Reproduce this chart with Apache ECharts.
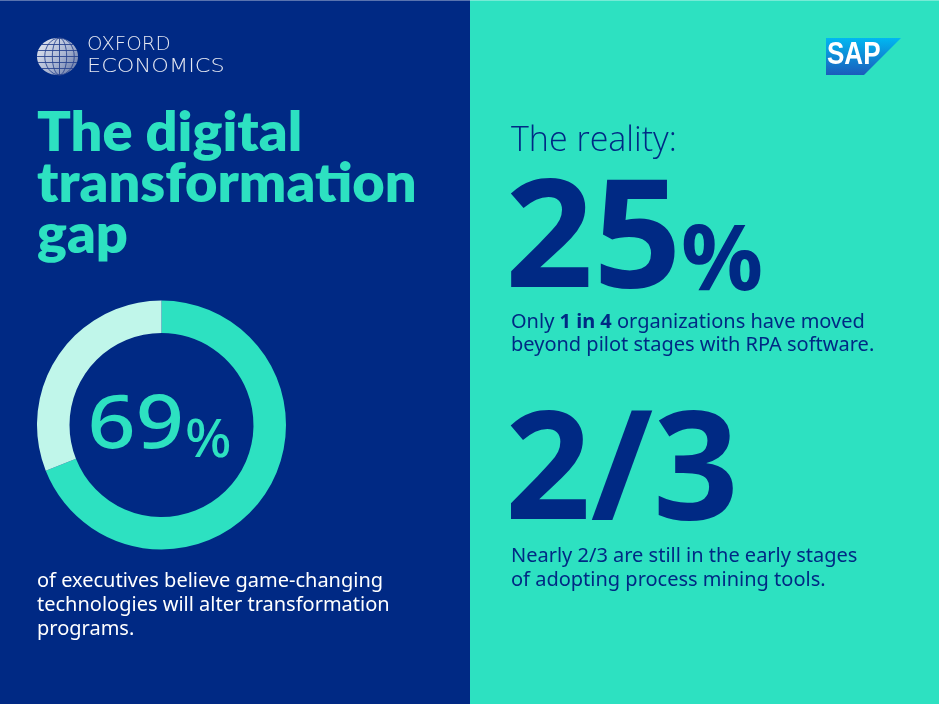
<!DOCTYPE html>
<html>
<head>
<meta charset="utf-8">
<script src="https://cdn.jsdelivr.net/npm/echarts@6/dist/echarts.min.js"></script>
<style>
html,body{margin:0;padding:0;background:#002984;}
#chart{width:939px;height:704px;}
</style>
</head>
<body>
<div id="chart"></div>
<script>
// ---- data ----
const donutCategories = ['Believe game-changing technologies will alter transformation programs', 'Other executives'];
const donutValues = [69, 31];
const donutHeadline = ['69', '%'];
const realityValue = ['25', '%'];
const fractionValue = '2/3';
const titleLines = ['The digital', 'transformation', 'gap'];
const leftBody = ['of executives believe game-changing', 'technologies will alter transformation', 'programs.'];
const realityBody1 = ['Only ', '1 in 4', ' organizations have moved'];
const realityBody2 = 'beyond pilot stages with RPA software.';
const fractionBody = ['Nearly 2/3 are still in the early stages', 'of adopting process mining tools.'];

// ---- colours ----
const NAVY = '#002984';
const TEAL = '#2DE1C1';
const MINT = '#C0F6EA';

const chart = echarts.init(document.getElementById('chart'), null, {renderer: 'canvas'});

// globe decoration (Oxford Economics logo)
const gcx = 57.5, gcy = 56.5, grx = 20.5, gry = 18.5;
const globe = [{
  type: 'ellipse', shape: {cx: gcx, cy: gcy, rx: grx, ry: gry},
  style: {fill: new echarts.graphic.LinearGradient(0, 0, 1, 1, [
    {offset: 0, color: '#e8ecf4'}, {offset: 0.55, color: '#aab6d2'}, {offset: 1, color: '#5d6f9f'}])}
}];
[0.35, 0.72].forEach(k => globe.push({
  type: 'ellipse', shape: {cx: gcx + 2, cy: gcy, rx: grx * k, ry: gry},
  style: {fill: null, stroke: '#2a4590', lineWidth: 0.9}
}));
globe.push({type: 'line', shape: {x1: gcx + 2, y1: gcy - gry, x2: gcx + 2, y2: gcy + gry}, style: {stroke: '#2a4590', lineWidth: 0.9}});
[-12, -6, 0, 6, 12].forEach(dy => {
  const hw = grx * Math.sqrt(1 - (dy / gry) * (dy / gry));
  globe.push({type: 'line', shape: {x1: gcx - hw, y1: gcy + dy, x2: gcx + hw, y2: gcy + dy}, style: {stroke: '#2a4590', lineWidth: 0.9}});
});

const BODY = '"Noto Sans", "Open Sans", sans-serif';

const option = {
  backgroundColor: NAVY,
  animation: false,
  series: [{
    type: 'pie',
    silent: true,
    radius: [92, 124.5],
    center: [161.5, 425],
    startAngle: 90,
    clockwise: true,
    label: {show: false},
    labelLine: {show: false},
    itemStyle: {borderWidth: 0},
    data: donutCategories.map((c, i) => ({name: c, value: donutValues[i], itemStyle: {color: i === 0 ? TEAL : MINT}}))
  }],
  graphic: [
    {type: 'rect', z: -10, shape: {x: 470, y: 0, width: 469, height: 704}, style: {fill: TEAL}},
    {type: 'rect', z: -5, shape: {x: 0, y: 0, width: 939, height: 1}, style: {fill: 'rgba(255,255,255,0.35)'}},
    {type: 'group', children: globe},
    {type: 'text', x: 87, y: 45, scaleX: 1.04, style: {text: 'OXFORD', fill: '#e6e9f2', font: '300 19px "DejaVu Sans", sans-serif', verticalAlign: 'middle'}},
    {type: 'text', x: 87, y: 67.5, scaleX: 1.18, style: {text: 'ECONOMICS', fill: '#e6e9f2', font: '300 19px "DejaVu Sans", sans-serif', verticalAlign: 'middle'}},
    {type: 'text', x: 37, y: 108, scaleX: 1.035, style: {text: titleLines.join('\n'), fill: TEAL, font: '800 54px Lato, sans-serif', lineHeight: 51, verticalAlign: 'top'}},
    {type: 'text', x: 184, y: 427, scaleX: 1.14, style: {text: donutHeadline[0], fill: TEAL, font: '500 74px ' + BODY, align: 'right', verticalAlign: 'middle'}},
    {type: 'text', x: 185, y: 442, scaleX: 1.05, style: {text: donutHeadline[1], fill: TEAL, font: '500 52px ' + BODY, align: 'left', verticalAlign: 'middle'}},
    {type: 'text', x: 37, y: 569, style: {text: leftBody.join('\n'), fill: '#ffffff', font: '20px ' + BODY, lineHeight: 24, verticalAlign: 'top'}},
    // SAP logo
    {type: 'polygon', shape: {points: [[826, 38], [901, 38], [864, 75], [826, 75]]},
      style: {fill: new echarts.graphic.LinearGradient(0, 0, 0, 1, [{offset: 0, color: '#00B8F1'}, {offset: 1, color: '#1B5CBB'}])}},
    {type: 'text', x: 827, y: 55, scaleX: 0.84, style: {text: 'SAP', fill: '#ffffff', font: 'bold 31px "Liberation Sans", sans-serif', verticalAlign: 'middle'}},
    // right panel
    {type: 'text', x: 511, y: 141, style: {text: 'The reality:', fill: NAVY, font: '300 34px "Open Sans", sans-serif', verticalAlign: 'middle'}},
    {type: 'text', x: 505, y: 244, scaleX: 1.03, style: {text: realityValue[0], fill: NAVY, font: 'bold 150px ' + BODY, verticalAlign: 'middle'}},
    {type: 'text', x: 681, y: 264, style: {text: realityValue[1], fill: NAVY, font: 'bold 91px ' + BODY, verticalAlign: 'middle'}},
    {type: 'text', x: 511, y: 310.5, style: {
      text: '{n|' + realityBody1[0] + '}{b|' + realityBody1[1] + '}{n|' + realityBody1[2] + '}\n{n|' + realityBody2 + '}',
      verticalAlign: 'top',
      rich: {
        n: {fill: NAVY, font: '20px ' + BODY, lineHeight: 23},
        b: {fill: NAVY, font: 'bold 20px ' + BODY, lineHeight: 23}
      }}},
    {type: 'text', x: 505, y: 476, style: {text: fractionValue, fill: NAVY, font: 'bold 150px ' + BODY, verticalAlign: 'middle'}},
    {type: 'text', x: 511, y: 544, style: {text: fractionBody.join('\n'), fill: NAVY, font: '20px ' + BODY, lineHeight: 24, verticalAlign: 'top'}}
  ]
};
chart.setOption(option);
</script>
</body>
</html>
